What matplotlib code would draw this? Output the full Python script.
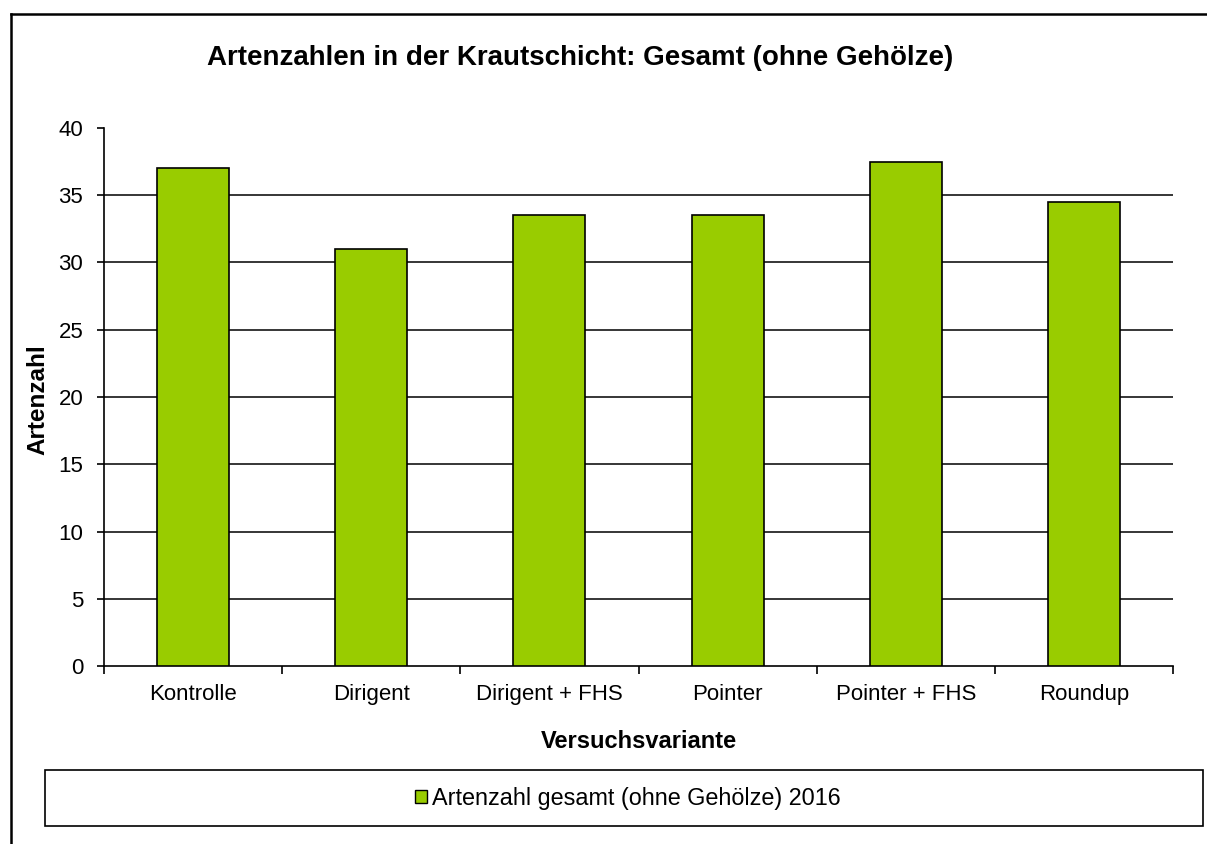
import matplotlib
matplotlib.use("Agg")
import matplotlib.pyplot as plt
from matplotlib.patches import Rectangle, Patch
from matplotlib.lines import Line2D
import numpy as np

plt.rcParams["font.family"] = ["Liberation Sans", "DejaVu Sans"]

varianten = ["Kontrolle", "Dirigent", "Dirigent + FHS", "Pointer", "Pointer + FHS", "Roundup"]
artenzahl = [37, 31, 33.5, 33.5, 37.5, 34.5]
serie = "Artenzahl gesamt (ohne Gehölze) 2016"

green = "#99CC00"
W, H = 1207, 844

fig = plt.figure(figsize=(W / 100, H / 100), dpi=100)
fig.set_facecolor("white")

# outer frame (only left and top edge visible)
fig.add_artist(Line2D([11 / W, 11 / W], [0, 1 - 14 / H], color="black", lw=1.8, transform=fig.transFigure))
fig.add_artist(Line2D([11 / W, 1], [1 - 14 / H, 1 - 14 / H], color="black", lw=1.8, transform=fig.transFigure))

ax = fig.add_axes([104 / W, 1 - 666 / H, (1173 - 104) / W, (666 - 128) / H])

x = np.arange(len(varianten))
ax.bar(x, artenzahl, width=0.405, color=green, edgecolor="black", linewidth=1.2, zorder=3)

ax.set_xlim(-0.5, len(varianten) - 0.5)
ax.set_ylim(0, 40)
ax.set_yticks(np.arange(0, 41, 5))
for y in range(5, 40, 5):
    ax.axhline(y, color="black", lw=1.1, zorder=1)

ax.set_xticks(x)
ax.set_xticklabels(varianten, fontsize=16)
ax.set_xticks(np.arange(-0.5, len(varianten)), minor=True)
ax.tick_params(axis="x", which="major", length=0, pad=13)
ax.tick_params(axis="x", which="minor", length=5.5, width=1.2, direction="out")
ax.tick_params(axis="y", length=5, width=1.2, direction="out", labelsize=16, pad=10)

for s in ["top", "right"]:
    ax.spines[s].set_visible(False)
ax.spines["left"].set_linewidth(1.2)
ax.spines["bottom"].set_linewidth(1.2)

ax.set_xlabel("Versuchsvariante", fontsize=17, fontweight="bold", va="center")
ax.xaxis.set_label_coords(0.5, (666 - 741) / 538)
ax.set_ylabel("Artenzahl", fontsize=17.5, fontweight="bold", va="center")
ax.yaxis.set_label_coords((38 - 104) / 1069, 0.5 - (400 - 397) / 538)

fig.text(580 / W, 1 - 58 / H, "Artenzahlen in der Krautschicht: Gesamt (ohne Gehölze)",
         ha="center", va="center", fontsize=20, fontweight="bold")

# legend box
fig.add_artist(Rectangle((45 / W, 1 - 826 / H), (1203 - 45) / W, (826 - 770) / H,
                         transform=fig.transFigure, fill=False, edgecolor="black", lw=1.2))
handle = Patch(facecolor=green, edgecolor="black", linewidth=1)
fig.legend([handle], [serie], loc="center", bbox_to_anchor=(628 / W, 1 - 798 / H),
           frameon=False, fontsize=16.8, handlelength=0.5, handleheight=0.5, handletextpad=0.25)

fig.savefig("out.png", dpi=100)
